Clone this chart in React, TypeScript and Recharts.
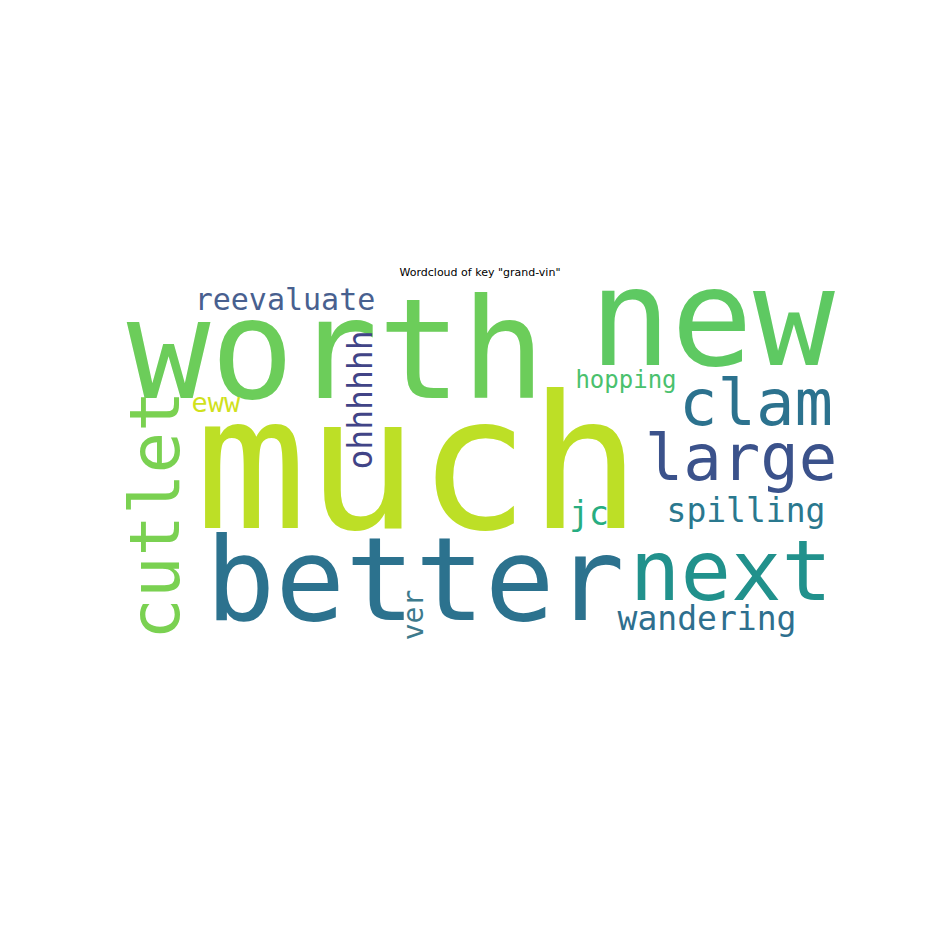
import { useEffect } from "react";
import { Scatter, ScatterChart, XAxis, YAxis } from "recharts";

const words = ["much", "worth", "new", "better", "next", "large", "clam", "cutlet", "reevaluate", "ohhhhhh", "hopping", "eww", "spilling", "jc", "wandering", "ver"];
const xs = [418, 336, 712, 415, 731, 741, 756, 155, 285, 360, 626, 216, 746, 589, 707, 413];
const ys = [528, 398, 365, 620, 600, 480, 425, 515, 310, 400, 388, 412, 522, 525, 630, 615];
const sizes = [185, 139, 136, 116, 84, 64, 64, 69, 30, 33, 24, 27, 33, 33, 33, 28];
const angles = [0, 0, 0, 0, 0, 0, 0, -90, 0, -90, 0, 0, 0, 0, 0, -90];
const colors = ["#bddf26", "#6ccd5a", "#5ec962", "#2c728e", "#21918c", "#3b528b", "#2c728e", "#7ad151", "#48608f", "#414487", "#4ac16d", "#d0e11c", "#2a788e", "#27ad81", "#2e6f8e", "#3d7a8c"];

const data = words.map((w, i) => ({ word: w, x: xs[i], y: ys[i], size: sizes[i], angle: angles[i], color: colors[i] }));

const WordShape = (props: any) => {
  const { cx, cy, payload } = props;
  const rotated = payload.angle !== 0;
  return (
    <text
      x={cx}
      y={cy}
      textAnchor="middle"
      dominantBaseline={rotated ? "central" : "alphabetic"}
      transform={rotated ? `rotate(${payload.angle} ${cx} ${cy})` : undefined}
      fontFamily="DejaVu Sans Mono"
      fontSize={payload.size}
      fill={payload.color}
    >
      {payload.word}
    </text>
  );
};

export default function App() {
  useEffect(() => {
    document.body.style.margin = "0";
  }, []);
  return (
    <div style={{ width: 936, height: 936, background: "#fff", position: "relative" }}>
      <div style={{ position: "absolute", top: 266, left: 0, width: 960, textAlign: "center", fontFamily: "DejaVu Sans", fontSize: 11, color: "#000" }}>
        Wordcloud of key "grand-vin"
      </div>
      <ScatterChart width={936} height={936} margin={{ top: 0, right: 0, bottom: 0, left: 0 }}>
        <XAxis type="number" dataKey="x" domain={[0, 936]} hide />
        <YAxis type="number" dataKey="y" domain={[0, 936]} reversed hide />
        <Scatter data={data} shape={WordShape} isAnimationActive={false} />
      </ScatterChart>
    </div>
  );
}
